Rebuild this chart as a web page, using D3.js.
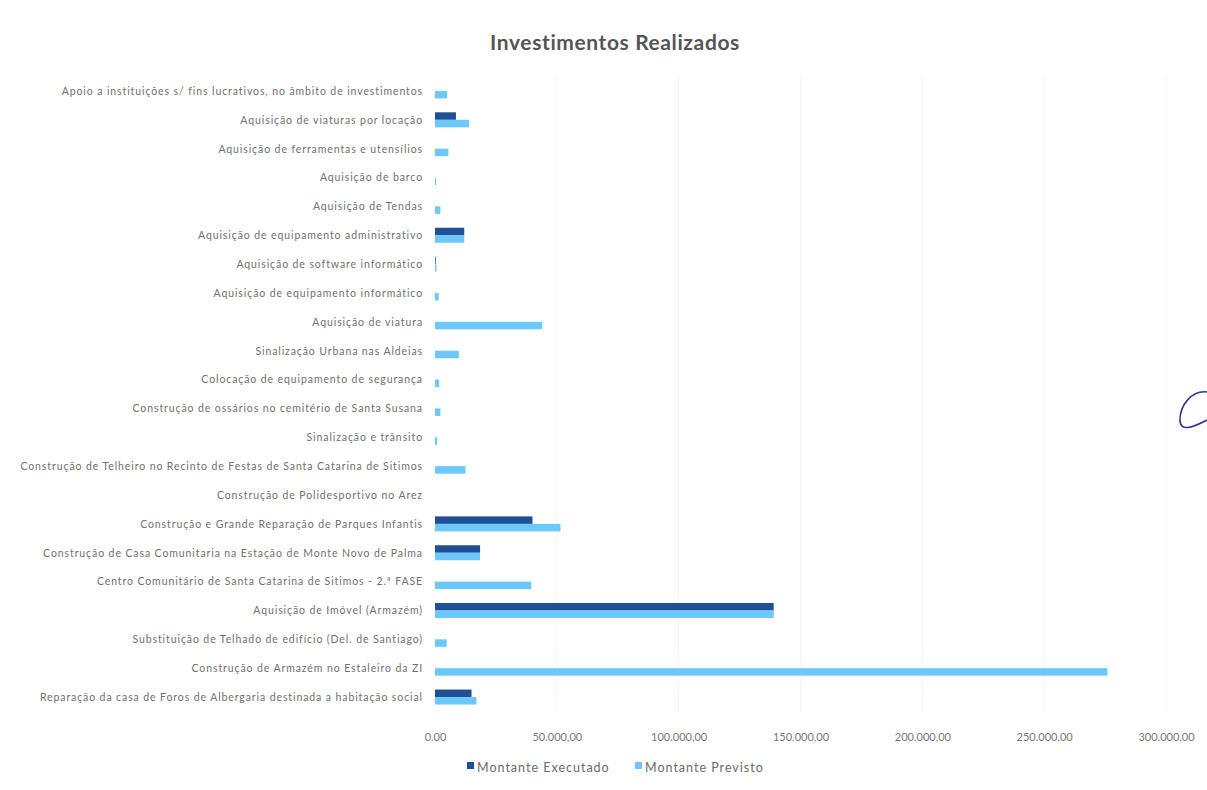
<!DOCTYPE html>
<html>
<head>
<meta charset="utf-8">
<script src="https://cdn.jsdelivr.net/npm/d3@7"></script>
<style>
  body { margin: 0; background: #fff; }
  text { font-family: Lato, "Open Sans", sans-serif; }
</style>
</head>
<body>
<script>
// categorias, de cima para baixo
const categorias = [
  "Apoio a instituições s/ fins lucrativos, no âmbito de investimentos",
  "Aquisição de viaturas por locação",
  "Aquisição de ferramentas e utensílios",
  "Aquisição de barco",
  "Aquisição de Tendas",
  "Aquisição de equipamento administrativo",
  "Aquisição de software informático",
  "Aquisição de equipamento informático",
  "Aquisição de viatura",
  "Sinalização Urbana nas Aldeias",
  "Colocação de equipamento de segurança",
  "Construção de ossários no cemitério de Santa Susana",
  "Sinalização e trânsito",
  "Construção de Telheiro no Recinto de Festas de Santa Catarina de Sitimos",
  "Construção de Polidesportivo no Arez",
  "Construção e Grande Reparação de Parques Infantis",
  "Construção de Casa Comunitaria na Estação de Monte Novo de Palma",
  "Centro Comunitário de Santa Catarina de Sitimos - 2.ª FASE",
  "Aquisição de Imóvel (Armazém)",
  "Substituição de Telhado de edifício (Del. de Santiago)",
  "Construção de Armazém no Estaleiro da ZI",
  "Reparação da casa de Foros de Albergaria destinada a habitação social"
];

const executado = [0, 8600, 0, 0, 0, 12000, 300, 0, 0, 0, 0, 0, 0, 0, 0, 40000, 18500, 0, 139000, 0, 0, 15000];
const previsto = [5000, 14000, 5500, 400, 2200, 12000, 600, 1500, 44000, 9800, 1700, 2200, 900, 12500, 0, 51500, 18500, 39500, 139000, 4800, 276000, 17000];

const series = ["Montante Executado", "Montante Previsto"];
const cores = ["#1f4f96", "#6cc8fb"];
const ticks = [0, 50000, 100000, 150000, 200000, 250000, 300000];
const tickLabels = ["0.00", "50.000,00", "100.000,00", "150.000,00", "200.000,00", "250.000,00", "300.000,00"];

const width = 1207;
const height = 790;

const svg = d3.select("body").append("svg")
  .attr("width", width)
  .attr("height", height);

const x = d3.scaleLinear().domain([0, 300000]).range([435, 1166]);
const y = d3.scaleBand().domain(categorias).range([77, 712]).padding(0);
const y1 = d3.scaleBand().domain(series)
  .range([y.bandwidth() / 2 - 8, y.bandwidth() / 2 + 7]);

// grelha muito clara
svg.append("g")
  .selectAll("line")
  .data(ticks.slice(1))
  .join("line")
  .attr("x1", d => x(d)).attr("x2", d => x(d))
  .attr("y1", 77).attr("y2", 712)
  .attr("stroke", "#f4f4f4")
  .attr("stroke-width", 1);

svg.append("text")
  .attr("x", 615).attr("y", 50)
  .attr("text-anchor", "middle")
  .attr("font-size", 21)
  .attr("font-weight", "bold")
  .attr("letter-spacing", 0.6)
  .attr("fill", "#555")
  .text("Investimentos Realizados");

// rótulos das categorias
const yAxis = svg.append("g")
  .attr("transform", "translate(427,0)")
  .call(d3.axisLeft(y).tickSize(0).tickPadding(4));
yAxis.select(".domain").remove();
yAxis.selectAll("text")
  .attr("font-size", 10.5)
  .attr("letter-spacing", 0.9)
  .attr("fill", "#707070")
  .style("font-family", "Lato, sans-serif");

// eixo x
const xAxis = svg.append("g")
  .attr("transform", "translate(0,728)")
  .call(d3.axisBottom(x).tickValues(ticks).tickSize(0).tickPadding(5)
    .tickFormat((d, i) => tickLabels[i]));
xAxis.select(".domain").remove();
xAxis.selectAll("text")
  .attr("font-size", 11)
  .attr("fill", "#777")
  .style("font-family", "Lato, sans-serif");

// barras
const grupos = svg.append("g")
  .selectAll("g")
  .data(categorias)
  .join("g")
  .attr("transform", d => `translate(0,${y(d)})`);

grupos.selectAll("rect")
  .data((d, i) => [
    { s: series[0], v: executado[i] },
    { s: series[1], v: previsto[i] }
  ])
  .join("rect")
  .attr("x", x(0))
  .attr("y", d => y1(d.s))
  .attr("width", d => x(d.v) - x(0))
  .attr("height", y1.bandwidth())
  .attr("fill", d => cores[series.indexOf(d.s)]);

// legenda
const legenda = svg.append("g").attr("transform", "translate(467,768)");
const itens = legenda.selectAll("g")
  .data(series)
  .join("g")
  .attr("transform", (d, i) => `translate(${i * 168},0)`);
itens.append("rect")
  .attr("x", 0).attr("y", -6)
  .attr("width", 7).attr("height", 7)
  .attr("fill", (d, i) => cores[i]);
itens.append("text")
  .attr("x", 10).attr("y", 0)
  .attr("dy", "0.32em")
  .attr("font-size", 12.5)
  .attr("letter-spacing", 1)
  .attr("fill", "#6a6a6a")
  .text(d => d);

// rubrica à margem
svg.append("path")
  .attr("d", "M1207,392 C1192,390 1180,405 1180,420 C1180,432 1192,428 1207,420")
  .attr("fill", "none")
  .attr("stroke", "#2b3a8c")
  .attr("stroke-width", 1.6);
</script>
</body>
</html>
